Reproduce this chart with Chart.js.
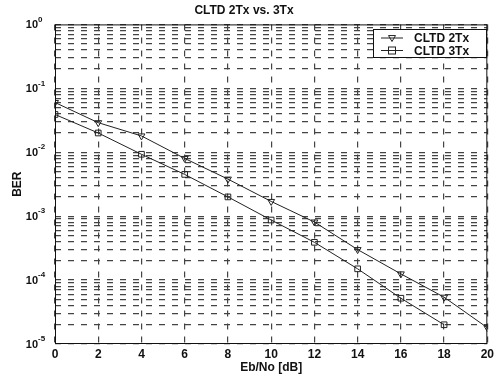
<!DOCTYPE html>
<html>
<head>
<meta charset="utf-8">
<script src="https://cdn.jsdelivr.net/npm/chart.js@4.4.1/dist/chart.umd.min.js"></script>
<style>
  html, body { margin: 0; padding: 0; background: #fff; }
  canvas { display: block; }
</style>
</head>
<body>
<canvas id="berChart" width="497" height="379"></canvas>
<script>
// Eb/No points and BER
var ebno = [0, 2, 4, 6, 8, 10, 12, 14, 16, 18, 20];
var ber2Tx = [0.060, 0.029, 0.018, 0.0080, 0.0038, 0.0017, 0.00081, 0.00030, 0.000125, 0.000054, 0.000018];
var ber3Tx = [0.039, 0.020, 0.0093, 0.0045, 0.0020, 0.00087, 0.00039, 0.00015, 0.000052, 0.000020, null];
var xTicks = [0, 2, 4, 6, 8, 10, 12, 14, 16, 18, 20];
var yDecades = [0, -1, -2, -3, -4, -5];
var seriesNames = ["CLTD 2Tx", "CLTD 3Tx"];

var FONT = "'Liberation Sans', Arial, Helvetica, sans-serif";

function toPoints(ys) {
    var pts = [];
    ebno.forEach(function (x, i) {
        if (ys[i] != null) pts.push({x: x, y: ys[i]});
    });
    return pts;
}

// every 1..9 x 10^n value, like matlab's log grid
var yGridValues = [];
yDecades.slice().reverse().forEach(function (e) {
    for (var m = 1; m <= 9; m++) {
        if (e === 0 && m > 1) break;
        yGridValues.push(m * Math.pow(10, e));
    }
});

function drawTri(ctx, x, y, r) {
    ctx.beginPath();
    ctx.moveTo(x - r, y - r * 0.7);
    ctx.lineTo(x + r, y - r * 0.7);
    ctx.lineTo(x, y + r);
    ctx.closePath();
    ctx.stroke();
}

var extras = {
    id: 'extras',
    afterDraw: function (chart) {
        var ctx = chart.ctx;
        var a = chart.chartArea;
        var ys = chart.scales.y;
        ctx.save();
        // axes box
        ctx.strokeStyle = '#111';
        ctx.lineWidth = 1;
        ctx.setLineDash([]);
        ctx.strokeRect(a.left + 0.5, a.top + 0.5, a.right - a.left - 1, a.bottom - a.top - 1);

        // y tick labels 10^n
        ctx.fillStyle = '#111';
        yDecades.forEach(function (e) {
            var y = ys.getPixelForValue(Math.pow(10, e));
            ctx.font = 'bold 11px ' + FONT;
            ctx.textAlign = 'right';
            ctx.textBaseline = 'middle';
            ctx.fillText('10', 38, y + 1);
            ctx.font = 'bold 8px ' + FONT;
            ctx.textAlign = 'left';
            ctx.fillText(String(e), 38, y - 5);
        });

        // legend box
        var lx = 373, ly = 29, lw = 113, lh = 28;
        ctx.fillStyle = '#fff';
        ctx.fillRect(lx, ly, lw, lh);
        ctx.strokeStyle = '#111';
        ctx.strokeRect(lx + 0.5, ly + 0.5, lw, lh);
        seriesNames.forEach(function (name, i) {
            var cy = ly + 9 + i * 12.5;
            ctx.strokeStyle = '#222';
            ctx.lineWidth = 1;
            ctx.beginPath();
            ctx.moveTo(381, cy);
            ctx.lineTo(403, cy);
            ctx.stroke();
            if (i === 0) {
                drawTri(ctx, 392, cy, 3.5);
            } else {
                ctx.strokeRect(388.5, cy - 3.5, 7, 7);
            }
            ctx.fillStyle = '#111';
            ctx.font = 'bold 12px ' + FONT;
            ctx.textAlign = 'left';
            ctx.textBaseline = 'middle';
            ctx.fillText(name, 414, cy + 1);
        });
        ctx.restore();
    }
};

var ctx = document.getElementById("berChart").getContext("2d");
new Chart(ctx, {
    type: 'line',
    data: {
        datasets: [{
            label: seriesNames[0],
            data: toPoints(ber2Tx),
            borderColor: '#222',
            borderWidth: 1,
            pointStyle: 'triangle',
            rotation: 180,
            pointRadius: 4,
            pointBorderColor: '#222',
            pointBackgroundColor: 'rgba(0,0,0,0)',
            pointBorderWidth: 1,
            tension: 0,
            fill: false
        }, {
            label: seriesNames[1],
            data: toPoints(ber3Tx),
            borderColor: '#222',
            borderWidth: 1,
            pointStyle: 'rect',
            pointRadius: 4,
            pointBorderColor: '#222',
            pointBackgroundColor: 'rgba(0,0,0,0)',
            pointBorderWidth: 1,
            tension: 0,
            fill: false
        }]
    },
    options: {
        responsive: false,
        animation: false,
        layout: {padding: {left: 0, right: 9, top: 0, bottom: 0}},
        plugins: {
            legend: {display: false},
            tooltip: {enabled: false},
            title: {
                display: true,
                text: 'CLTD 2Tx vs. 3Tx',
                color: '#111',
                font: {family: FONT, size: 12, weight: 'bold'},
                padding: {top: 3, bottom: 7}
            }
        },
        scales: {
            x: {
                type: 'linear',
                min: 0,
                max: 20,
                afterBuildTicks: function (scale) {
                    scale.ticks = xTicks.map(function (v) { return {value: v}; });
                },
                afterFit: function (scale) { scale.height = 35; },
                grid: {color: '#444', lineWidth: 1.2, drawTicks: false},
                border: {display: false, dash: [6, 7]},
                ticks: {
                    color: '#111',
                    padding: 3,
                    maxRotation: 0,
                    font: {family: FONT, size: 12, weight: 'bold'}
                },
                title: {
                    display: true,
                    text: 'Eb/No [dB]',
                    color: '#111',
                    font: {family: FONT, size: 12, weight: 'bold'},
                    padding: {top: 0, bottom: 4}
                }
            },
            y: {
                type: 'logarithmic',
                min: 1e-5,
                max: 1,
                afterBuildTicks: function (scale) {
                    scale.ticks = yGridValues.map(function (v) { return {value: v}; });
                },
                afterFit: function (scale) { scale.width = 55; },
                grid: {color: '#444', lineWidth: 1.2, drawTicks: false},
                border: {display: false, dash: [6, 7]},
                ticks: {display: false},
                title: {
                    display: true,
                    text: 'BER',
                    color: '#111',
                    font: {family: FONT, size: 12, weight: 'bold'},
                    padding: {top: 10, bottom: 0}
                }
            }
        }
    },
    plugins: [extras]
});
</script>
</body>
</html>
